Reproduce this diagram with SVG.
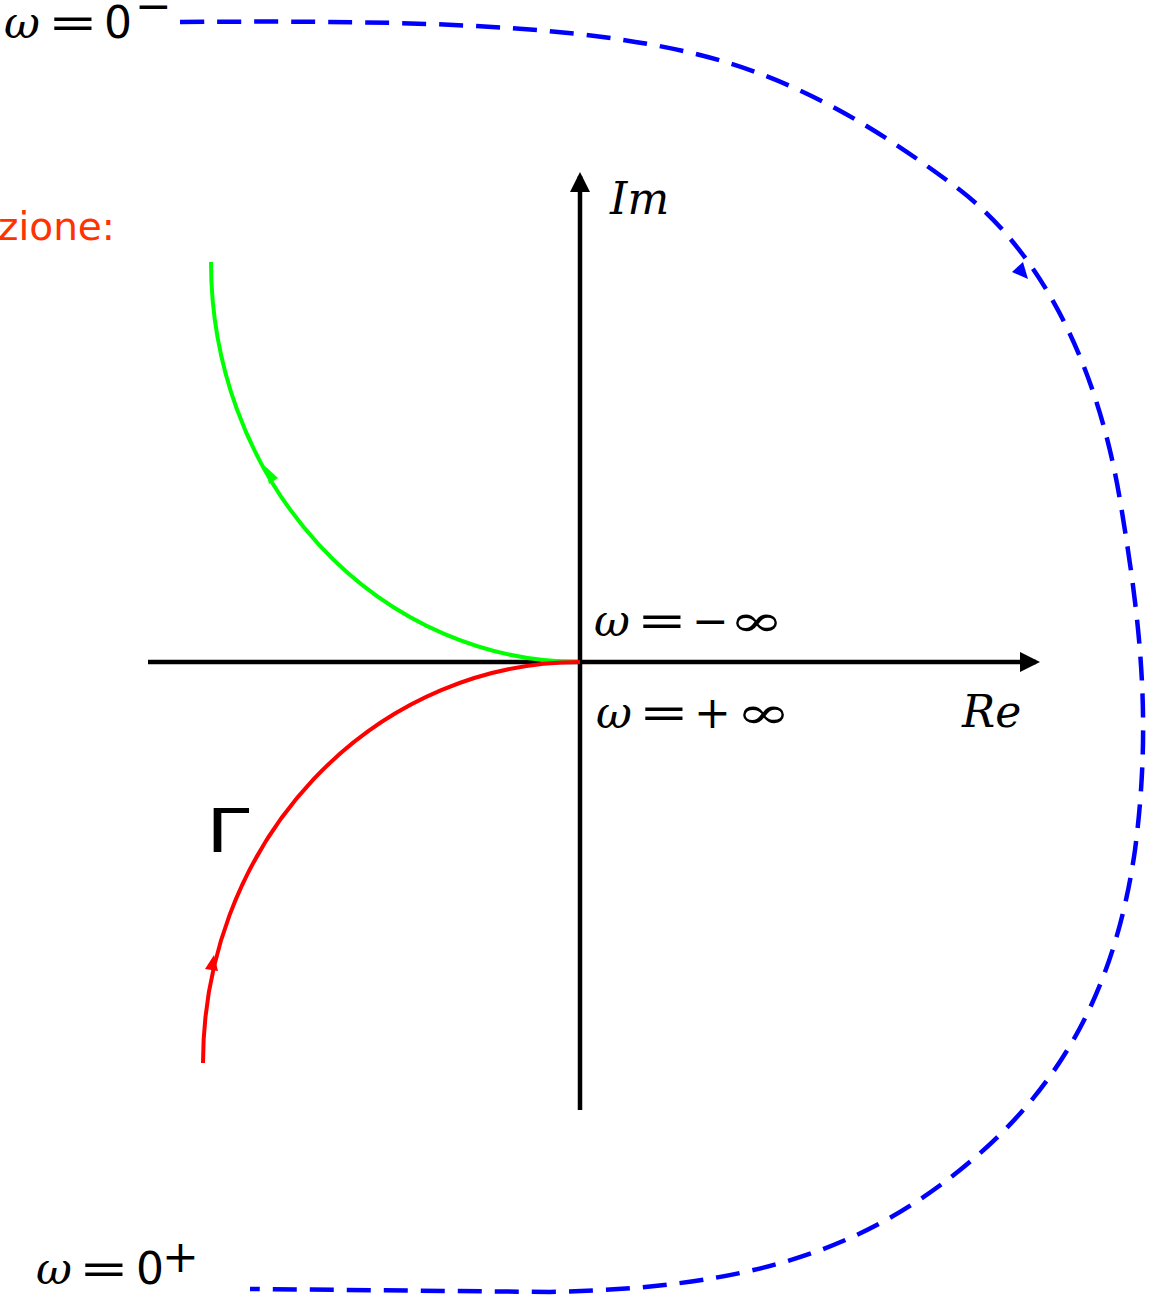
<svg xmlns="http://www.w3.org/2000/svg" width="1153" height="1297" viewBox="0 0 1153 1297">
<style>
.m{font-family:"DejaVu Serif","Liberation Serif",serif;font-size:44px;fill:#000}
.i{font-style:italic}
.s{font-family:"DejaVu Sans","Liberation Sans",sans-serif;font-size:44px;fill:#000}
.ax{stroke:#000;stroke-width:4.5;fill:none}
</style>
<defs>
<marker id="ah" viewBox="0 0 10 10" refX="8" refY="5" markerWidth="4.5" markerHeight="4.5" orient="auto" markerUnits="strokeWidth"><path d="M0,0 L10,5 L0,10 z" fill="#000"/></marker>
</defs>
<rect width="1153" height="1297" fill="#fff"/>
<g id="connectors">
<line class="ax" x1="148" y1="662" x2="1036" y2="662" marker-end="url(#ah)"/>
<line class="ax" x1="580" y1="1110" x2="580" y2="176" marker-end="url(#ah)"/>
<path d="M580,662 A369,400 0 0 1 211,262" fill="none" stroke="#00ff00" stroke-width="4"/>
<polygon points="265,466 278,478 269,484" fill="#00ff00"/>
<path d="M580,662 A377,401 0 0 0 203,1063" fill="none" stroke="#ff0000" stroke-width="4"/>
<polygon points="214,955 218,971 205,969" fill="#ff0000"/>
<path d="M180,22 C420,20 580,25 700,55 C800,80 880,130 960,190 C1050,260 1100,380 1120,500 C1140,620 1152,720 1135,850 C1115,990 1060,1090 960,1170 C860,1250 750,1288 550,1292 L250,1289" fill="none" stroke="#0000ff" stroke-width="4.5" stroke-dasharray="24,13"/>
<polygon points="1012,272 1023,262 1028,279" fill="#0000ff"/>
</g>
<g id="label-w0minus"><text x="4" y="38" class="m i">ω</text><text transform="translate(48,38) scale(1.35,1)" class="m">=</text><text x="104" y="38" class="s">0</text><text x="135" y="21" class="m" font-size="34">−</text></g>
<g id="label-zione"><text x="115" y="240" text-anchor="end" font-family="DejaVu Sans,Liberation Sans,sans-serif" font-size="39" fill="#ff3300">zione:</text></g>
<g id="label-im"><text x="610" y="214" class="m i">Im</text></g>
<g id="label-re"><text x="962" y="727" class="m i">Re</text></g>
<g id="label-wminf"><text x="594" y="636" class="m i">ω</text><text transform="translate(637,636) scale(1.35,1)" class="m">=</text><text x="692" y="636" class="m">−</text><text transform="translate(729,636) scale(1.5,1)" class="m" font-size="52">∞</text></g>
<g id="label-wpinf"><text x="596" y="728" class="m i">ω</text><text transform="translate(639,728) scale(1.35,1)" class="m">=</text><text x="694" y="728" class="m">+</text><text transform="translate(736,728) scale(1.5,1)" class="m" font-size="52">∞</text></g>
<g id="label-gamma"><text transform="translate(206,852) scale(1.3,1)" font-family="DejaVu Sans,Liberation Sans,sans-serif" font-size="60" fill="#000">Γ</text></g>
<g id="label-w0plus"><text x="36" y="1284" class="m i">ω</text><text transform="translate(79,1284) scale(1.35,1)" class="m">=</text><text x="136" y="1284" class="s">0</text><text x="162" y="1272" class="m" font-size="42">+</text></g>
</svg>
